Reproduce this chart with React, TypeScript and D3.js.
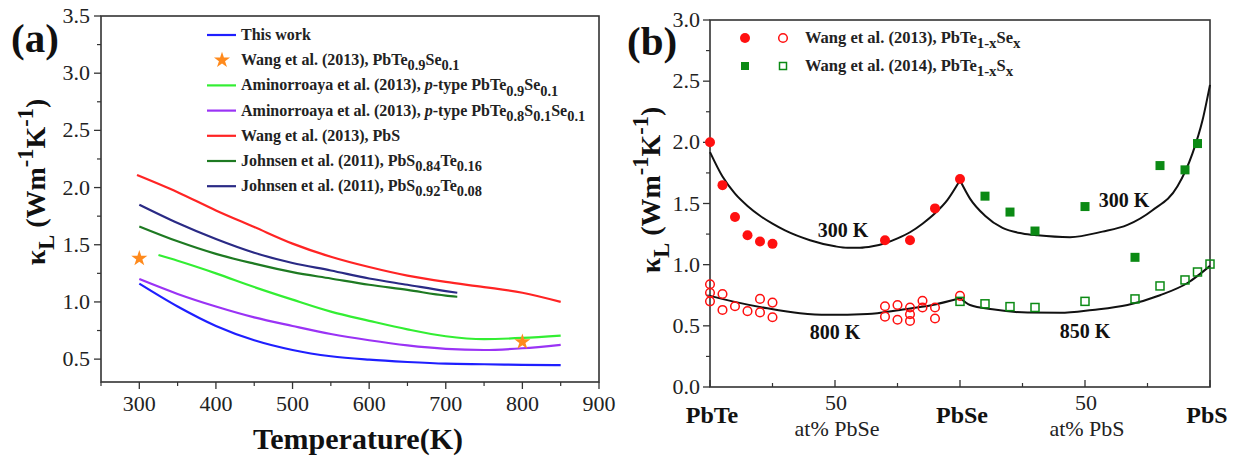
import * as d3 from "d3";

// ---------- panel (a): lattice thermal conductivity vs temperature ----------
const thisWorkT = [300, 350, 400, 450, 500, 550, 600, 650, 700, 750, 800, 850];
const thisWorkK = [1.16, 0.96, 0.79, 0.665, 0.58, 0.525, 0.495, 0.475, 0.46, 0.455, 0.45, 0.448];

const amSeT = [325, 350, 400, 450, 500, 550, 600, 650, 700, 750, 800, 850];
const amSeK = [1.41, 1.36, 1.25, 1.13, 1.02, 0.915, 0.835, 0.76, 0.70, 0.675, 0.685, 0.705];

const amSSeT = [300, 350, 400, 450, 500, 550, 600, 650, 700, 750, 800, 850];
const amSSeK = [1.20, 1.07, 0.96, 0.865, 0.79, 0.72, 0.665, 0.62, 0.59, 0.58, 0.595, 0.625];

const pbsT = [297, 350, 400, 450, 500, 550, 600, 650, 700, 750, 800, 850];
const pbsK = [2.11, 1.96, 1.80, 1.655, 1.51, 1.395, 1.305, 1.23, 1.175, 1.13, 1.08, 1.0];

const jo84T = [300, 350, 400, 450, 500, 550, 600, 650, 700, 715];
const jo84K = [1.66, 1.53, 1.42, 1.335, 1.26, 1.205, 1.15, 1.105, 1.055, 1.045];

const jo92T = [300, 350, 400, 450, 500, 550, 600, 650, 700, 715];
const jo92K = [1.85, 1.69, 1.55, 1.43, 1.34, 1.275, 1.205, 1.15, 1.095, 1.08];

const starT = [300, 800];
const starK = [1.38, 0.65];

const xTicksA = [300, 400, 500, 600, 700, 800, 900];
const xMinorA = [250, 350, 450, 550, 650, 750, 850];
const yTicksA = [0.5, 1.0, 1.5, 2.0, 2.5, 3.0, 3.5];
const yMinorA = [0.75, 1.25, 1.75, 2.25, 2.75, 3.25];

// ---------- panel (b): composition dependence ----------
// x: 0 = PbTe, 100 = PbSe, 200 = PbS
const seFillX = [0, 5, 10, 15, 20, 25, 70, 80, 90, 100];
const seFillK = [2.0, 1.65, 1.39, 1.24, 1.19, 1.17, 1.20, 1.20, 1.46, 1.70];

const seOpenX = [0, 0, 0, 5, 5, 10, 15, 20, 20, 25, 25, 70, 70, 75, 75, 80, 80, 80, 85, 85, 90, 90, 100];
const seOpenK = [0.84, 0.77, 0.70, 0.76, 0.63, 0.66, 0.62, 0.61, 0.72, 0.69, 0.57, 0.66, 0.575, 0.67, 0.55, 0.65, 0.595, 0.54, 0.705, 0.65, 0.65, 0.56, 0.745];

const sFillX = [110, 120, 130, 150, 170, 180, 190, 195];
const sFillK = [1.56, 1.43, 1.275, 1.475, 1.06, 1.81, 1.775, 1.99];

const sOpenX = [100, 110, 120, 130, 150, 170, 180, 190, 195, 200];
const sOpenK = [0.70, 0.68, 0.657, 0.65, 0.70, 0.72, 0.826, 0.875, 0.94, 1.005];

const fit300SeX = [0, 5, 10, 15, 20, 25, 30, 40, 50, 55, 60, 65, 70, 75, 80, 85, 90, 95, 100];
const fit300SeK = [1.92, 1.72, 1.58, 1.48, 1.40, 1.335, 1.28, 1.20, 1.15, 1.138, 1.138, 1.15, 1.175, 1.215, 1.265, 1.335, 1.42, 1.53, 1.69];

const fit300SX = [100, 104, 110, 117, 125, 131, 144, 157, 167, 177, 187, 193, 197, 200];
const fit300SK = [1.69, 1.54, 1.40, 1.30, 1.255, 1.24, 1.225, 1.27, 1.325, 1.445, 1.64, 1.91, 2.18, 2.47];

const fit800X = [0, 9, 23, 36, 47, 63, 76, 89, 100];
const fit800K = [0.745, 0.70, 0.643, 0.603, 0.59, 0.597, 0.63, 0.67, 0.725];

const fit850X = [100, 104, 113, 127, 140, 153, 167, 180, 191, 200];
const fit850K = [0.73, 0.67, 0.635, 0.608, 0.606, 0.63, 0.67, 0.75, 0.85, 0.99];

const xMajorB = [0, 50, 100, 150, 200];
const xMinorB = [25, 75, 125, 175];
const yTicksB = [0, 0.5, 1.0, 1.5, 2.0, 2.5, 3.0];
const yMinorB = [0.25, 0.75, 1.25, 1.75, 2.25, 2.75];

type Seg = [string, string];

const legendA: { label: Seg[]; color: string; kind: string }[] = [
  { label: [["This work", ""]], color: "#1f1fff", kind: "line" },
  { label: [["Wang et al. (2013), PbTe", ""], ["0.9", "sub"], ["Se", ""], ["0.1", "sub"]], color: "#ff8a1c", kind: "star" },
  { label: [["Aminorroaya et al. (2013), ", ""], ["p", "i"], ["-type PbTe", ""], ["0.9", "sub"], ["Se", ""], ["0.1", "sub"]], color: "#33ee33", kind: "line" },
  { label: [["Aminorroaya et al. (2013), ", ""], ["p", "i"], ["-type PbTe", ""], ["0.8", "sub"], ["S", ""], ["0.1", "sub"], ["Se", ""], ["0.1", "sub"]], color: "#9a33f5", kind: "line" },
  { label: [["Wang et al. (2013), PbS", ""]], color: "#ff2424", kind: "line" },
  { label: [["Johnsen et al. (2011), PbS", ""], ["0.84", "sub"], ["Te", ""], ["0.16", "sub"]], color: "#1e7a22", kind: "line" },
  { label: [["Johnsen et al. (2011), PbS", ""], ["0.92", "sub"], ["Te", ""], ["0.08", "sub"]], color: "#2a2a85", kind: "line" },
];

const FONT = "'Liberation Serif', 'Times New Roman', serif";

function Rich({ segs, size, small = 0.9 }: { segs: Seg[]; size: number; small?: number }) {
  let cur = 0;
  return (
    <>
      {segs.map((s, i) => {
        const target = s[1] === "sub" ? size * 0.32 : s[1] === "sup" ? -size * 0.42 : 0;
        const dy = target - cur;
        cur = target;
        const isSmall = s[1] === "sub" || s[1] === "sup";
        return (
          <tspan key={i} dy={dy} fontSize={isSmall ? size * small : size} fontStyle={s[1] === "i" ? "italic" : "normal"}>
            {s[0]}
          </tspan>
        );
      })}
    </>
  );
}

const kappaTitle: Seg[] = [["κ", ""], ["L", "sub"], [" (Wm", ""], ["-1", "sup"], ["K", ""], ["-1", "sup"], [")", ""]];

export default function App() {
  const xA = d3.scaleLinear().domain([250, 900]).range([101, 599]);
  const yA = d3.scaleLinear().domain([0.3, 3.5]).range([382, 16]);
  const xB = d3.scaleLinear().domain([0, 200]).range([710, 1210]);
  const yB = d3.scaleLinear().domain([0, 3]).range([387, 20]);

  const lineA = (ts: number[], ks: number[]) =>
    d3.line<number>().x((_, i) => xA(ts[i])).y((k) => yA(k)).curve(d3.curveMonotoneX)(ks) || "";
  const lineB = (xs: number[], ks: number[]) =>
    d3.line<number>().x((_, i) => xB(xs[i])).y((k) => yB(k)).curve(d3.curveMonotoneX)(ks) || "";

  const star = d3.symbol(d3.symbolStar).size(80)() || "";
  const fmt = d3.format(".1f");

  const seriesA = [
    { t: thisWorkT, k: thisWorkK, c: legendA[0].color },
    { t: amSeT, k: amSeK, c: legendA[2].color },
    { t: amSSeT, k: amSSeK, c: legendA[3].color },
    { t: pbsT, k: pbsK, c: legendA[4].color },
    { t: jo84T, k: jo84K, c: legendA[5].color },
    { t: jo92T, k: jo92K, c: legendA[6].color },
  ];

  const red = "#ff1010";
  const green = "#0b8a14";

  return (
    <svg width={1240} height={459} style={{ position: "absolute", left: 0, top: 0, background: "#fff", fontFamily: FONT }}>
      {/* ===== panel (a) ===== */}
      <rect x={xA(250)} y={yA(3.5)} width={xA(900) - xA(250)} height={yA(0.3) - yA(3.5)} fill="none" stroke="#333" strokeWidth={1.6} />
      {xTicksA.map((t) => (
        <g key={t}>
          <line x1={xA(t)} x2={xA(t)} y1={yA(0.3)} y2={yA(0.3) + 7} stroke="#333" strokeWidth={1.3} />
          <text x={xA(t)} y={yA(0.3) + 29} textAnchor="middle" fontSize={22} fill="#222">{t}</text>
        </g>
      ))}
      {xMinorA.map((t) => (
        <line key={t} x1={xA(t)} x2={xA(t)} y1={yA(0.3)} y2={yA(0.3) + 4} stroke="#333" strokeWidth={1.2} />
      ))}
      {yTicksA.map((v) => (
        <g key={v}>
          <line x1={xA(250) - 7} x2={xA(250)} y1={yA(v)} y2={yA(v)} stroke="#333" strokeWidth={1.3} />
          <text x={xA(250) - 11} y={yA(v) + 7} textAnchor="end" fontSize={22} fill="#222">{fmt(v)}</text>
        </g>
      ))}
      {yMinorA.map((v) => (
        <line key={v} x1={xA(250) - 4} x2={xA(250)} y1={yA(v)} y2={yA(v)} stroke="#333" strokeWidth={1.2} />
      ))}
      {seriesA.map((s, i) => (
        <path key={i} d={lineA(s.t, s.k)} fill="none" stroke={s.c} strokeWidth={2.2} />
      ))}
      {starT.map((t, i) => (
        <path key={i} d={star} transform={`translate(${xA(t)},${yA(starK[i])})`} fill={legendA[1].color} />
      ))}
      {legendA.map((e, i) => {
        const y = 35 + i * 25.2;
        return (
          <g key={i}>
            {e.kind === "line" ? (
              <line x1={207} x2={236} y1={y} y2={y} stroke={e.color} strokeWidth={2.2} />
            ) : (
              <path d={star} transform={`translate(222,${y})`} fill={e.color} />
            )}
            <text x={241} y={y + 5} fontSize={16} fontWeight="bold" fill="#222">
              <Rich segs={e.label} size={16} />
            </text>
          </g>
        );
      })}
      <text x={358} y={449} textAnchor="middle" fontSize={30} fontWeight="bold" fill="#111">Temperature(K)</text>
      <text transform={`translate(45,182) rotate(-90)`} textAnchor="middle" fontSize={28} fontWeight="bold" fill="#111">
        <Rich segs={kappaTitle} size={28} small={0.8} />
      </text>
      <text x={11} y={52} fontSize={41} fontWeight="bold" fill="#111">(a)</text>

      {/* ===== panel (b) ===== */}
      <rect x={xB(0)} y={yB(3)} width={xB(200) - xB(0)} height={yB(0) - yB(3)} fill="none" stroke="#333" strokeWidth={1.6} />
      {xMajorB.map((t) => (
        <line key={t} x1={xB(t)} x2={xB(t)} y1={yB(0)} y2={yB(0) - 7} stroke="#333" strokeWidth={1.3} />
      ))}
      {xMinorB.map((t) => (
        <line key={t} x1={xB(t)} x2={xB(t)} y1={yB(0)} y2={yB(0) - 4} stroke="#333" strokeWidth={1.2} />
      ))}
      {yTicksB.map((v) => (
        <g key={v}>
          <line x1={xB(0) - 7} x2={xB(0)} y1={yB(v)} y2={yB(v)} stroke="#333" strokeWidth={1.3} />
          <text x={xB(0) - 10} y={yB(v) + 7} textAnchor="end" fontSize={22} fill="#222">{fmt(v)}</text>
        </g>
      ))}
      {yMinorB.map((v) => (
        <line key={v} x1={xB(0) - 4} x2={xB(0)} y1={yB(v)} y2={yB(v)} stroke="#333" strokeWidth={1.2} />
      ))}
      {[0, 100, 200].map((t, i) => (
        <text key={t} x={xB(t) + (i === 2 ? -3 : 2)} y={423} textAnchor="middle" fontSize={24} fontWeight="bold" fill="#111">
          {["PbTe", "PbSe", "PbS"][i]}
        </text>
      ))}
      {[50, 150].map((t, i) => (
        <g key={t}>
          <text x={xB(t) + 1} y={410} textAnchor="middle" fontSize={22} fill="#222">50</text>
          <text x={xB(t) + 2} y={436} textAnchor="middle" fontSize={22} fill="#222">{["at% PbSe", "at% PbS"][i]}</text>
        </g>
      ))}

      {[[fit300SeX, fit300SeK], [fit300SX, fit300SK], [fit800X, fit800K], [fit850X, fit850K]].map((c, i) => (
        <path key={i} d={lineB(c[0], c[1])} fill="none" stroke="#111" strokeWidth={2} />
      ))}
      {seOpenX.map((x, i) => (
        <circle key={i} cx={xB(x)} cy={yB(seOpenK[i])} r={4.3} fill="none" stroke={red} strokeWidth={1.5} />
      ))}
      {seFillX.map((x, i) => (
        <circle key={i} cx={xB(x)} cy={yB(seFillK[i])} r={5} fill={red} />
      ))}
      {sOpenX.map((x, i) => (
        <rect key={i} x={xB(x) - 4} y={yB(sOpenK[i]) - 4} width={8} height={8} fill="none" stroke={green} strokeWidth={1.5} />
      ))}
      {sFillX.map((x, i) => (
        <rect key={i} x={xB(x) - 4.5} y={yB(sFillK[i]) - 4.5} width={9} height={9} fill={green} />
      ))}

      <text x={843} y={237} textAnchor="middle" fontSize={20} fontWeight="bold" fill="#111">300 K</text>
      <text x={835} y={339} textAnchor="middle" fontSize={20} fontWeight="bold" fill="#111">800 K</text>
      <text x={1124} y={207} textAnchor="middle" fontSize={20} fontWeight="bold" fill="#111">300 K</text>
      <text x={1085} y={338} textAnchor="middle" fontSize={20} fontWeight="bold" fill="#111">850 K</text>

      {/* legend (b) */}
      <circle cx={745} cy={38} r={5} fill={red} />
      <circle cx={783} cy={38} r={4.3} fill="none" stroke={red} strokeWidth={1.5} />
      <rect x={741} y={62} width={8} height={8} fill={green} />
      <rect x={779.5} y={62.5} width={7} height={7} fill="none" stroke={green} strokeWidth={1.5} />
      <text x={805} y={43} fontSize={16.5} fontWeight="bold" fill="#222">
        <Rich segs={[["Wang et al. (2013), PbTe", ""], ["1-x", "sub"], ["Se", ""], ["x", "sub"]]} size={16.5} />
      </text>
      <text x={805} y={71} fontSize={16.5} fontWeight="bold" fill="#222">
        <Rich segs={[["Wang et al. (2014), PbTe", ""], ["1-x", "sub"], ["S", ""], ["x", "sub"]]} size={16.5} />
      </text>

      <text transform={`translate(660,190) rotate(-90)`} textAnchor="middle" fontSize={28} fontWeight="bold" fill="#111">
        <Rich segs={kappaTitle} size={28} small={0.8} />
      </text>
      <text x={627} y={55} fontSize={41} fontWeight="bold" fill="#111">(b)</text>
    </svg>
  );
}
